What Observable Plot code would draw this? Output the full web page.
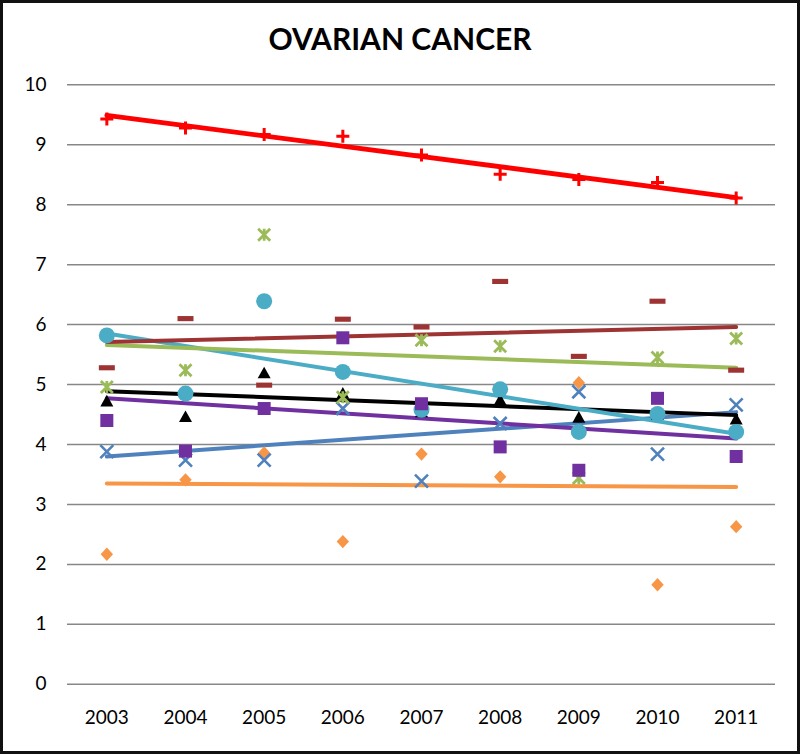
<!DOCTYPE html>
<html>
<head>
<meta charset="utf-8">
<script src="https://cdn.jsdelivr.net/npm/d3@7"></script>
<script src="https://cdn.jsdelivr.net/npm/@observablehq/plot@0.6"></script>
<style>
  body { margin: 0; background: #fff; }
  #wrap { position: relative; width: 800px; height: 754px; overflow: hidden; background: #fff; }
  #frame { position: absolute; left: 0; top: 0; width: 800px; height: 754px; box-sizing: border-box; border: 3px solid #111; pointer-events: none; }
  #title { position: absolute; left: 0; top: 23px; width: 800px; text-align: center; font: bold 30px Lato, "Open Sans", sans-serif; line-height: 30px; color: #000; }
  #chart { position: absolute; left: 0; top: 0; }
</style>
</head>
<body>
<div id="wrap">
  <div id="chart"></div>
  <div id="title">OVARIAN CANCER</div>
  <div id="frame"></div>
</div>
<script>
// ---- data ----
const years = [2003, 2004, 2005, 2006, 2007, 2008, 2009, 2010, 2011];
const yTicks = [0, 1, 2, 3, 4, 5, 6, 7, 8, 9, 10];

const redPlus       = [9.43, 9.28, 9.17, 9.14, 8.83, 8.51, 8.42, 8.37, 8.11];
const darkRedDash   = [5.28, 6.10, 4.99, 6.09, 5.96, 6.72, 5.47, 6.39, 5.24];
const greenStar     = [4.96, 5.24, 7.50, 4.79, 5.74, 5.64, 3.44, 5.45, 5.77];
const cyanCircle    = [5.82, 4.85, 6.39, 5.21, 4.58, 4.92, 4.21, 4.51, 4.21];
const blackTriangle = [4.72, 4.46, 5.19, 4.85, 4.54, 4.74, 4.45, 4.50, 4.42];
const purpleSquare  = [4.40, 3.89, 4.60, 5.78, 4.68, 3.96, 3.57, 4.77, 3.80];
const blueCross     = [3.88, 3.74, 3.74, 4.60, 3.39, 4.35, 4.88, 3.84, 4.66];
const orangeDiamond = [2.17, 3.41, 3.86, 2.38, 3.84, 3.46, 5.03, 1.66, 2.63];

// trend line values at 2003 and 2011
const redTrend     = [9.49, 8.12];
const darkRedTrend = [5.71, 5.96];
const greenTrend   = [5.66, 5.28];
const cyanTrend    = [5.85, 4.18];
const blackTrend   = [4.89, 4.49];
const purpleTrend  = [4.77, 4.10];
const blueTrend    = [3.80, 4.54];
const orangeTrend  = [3.35, 3.29];

// ---- marker shapes (r = half width) ----
const R = size => Math.sqrt(size / Math.PI);
const symPlus = {draw(c, s) { const r = R(s); c.moveTo(-r, 0); c.lineTo(r, 0); c.moveTo(0, -r); c.lineTo(0, r); }};
const symTimes = {draw(c, s) { const r = R(s); c.moveTo(-r, -r); c.lineTo(r, r); c.moveTo(-r, r); c.lineTo(r, -r); }};
const symStar = {draw(c, s) { const r = R(s); c.moveTo(-r, -r); c.lineTo(r, r); c.moveTo(-r, r); c.lineTo(r, -r); c.moveTo(0, -r); c.lineTo(0, r); }};
const symDash = {draw(c, s) { const r = R(s), h = r * 0.32; c.moveTo(-r, -h); c.lineTo(r, -h); c.lineTo(r, h); c.lineTo(-r, h); c.closePath(); }};
const symSquare = {draw(c, s) { const r = R(s); c.moveTo(-r, -r); c.lineTo(r, -r); c.lineTo(r, r); c.lineTo(-r, r); c.closePath(); }};
const symTri = {draw(c, s) { const r = R(s); c.moveTo(0, -r); c.lineTo(r, r * 0.8); c.lineTo(-r, r * 0.8); c.closePath(); }};
const symDiamond = {draw(c, s) { const r = R(s); c.moveTo(0, -r * 1.08); c.lineTo(r, 0); c.lineTo(0, r * 1.08); c.lineTo(-r, 0); c.closePath(); }};

const series = [
  {values: orangeDiamond, trend: orangeTrend, color: "#F79646", symbol: symDiamond, r: 6.2, filled: true, lw: 4},
  {values: blueCross, trend: blueTrend, color: "#4F81BD", symbol: symTimes, r: 6.5, filled: false, sw: 2.6, lw: 4},
  {values: blackTriangle, trend: blackTrend, color: "#000000", symbol: symTri, r: 6.5, filled: true, lw: 4},
  {values: cyanCircle, trend: cyanTrend, color: "#4BACC6", symbol: "circle", r: 8, filled: true, lw: 4},
  {values: greenStar, trend: greenTrend, color: "#9BBB59", symbol: symStar, r: 6, filled: false, sw: 2.8, lw: 4},
  {values: purpleSquare, trend: purpleTrend, color: "#7030A0", symbol: symSquare, r: 6.5, filled: true, lw: 4},
  {values: darkRedDash, trend: darkRedTrend, color: "#9E3334", symbol: symDash, r: 8, filled: true, lw: 4},
  {values: redPlus, trend: redTrend, color: "#FF0000", symbol: symPlus, r: 6.5, filled: false, sw: 3, lw: 4.8}
];

const lineMarks = series.map(s => Plot.line(
  [{year: years[0], v: s.trend[0]}, {year: years[years.length - 1], v: s.trend[1]}],
  {x: "year", y: "v", stroke: s.color, strokeWidth: s.lw}
));
const dotMarks = series.map(s => Plot.dot(
  years.map((yr, i) => ({year: yr, v: s.values[i]})),
  {x: "year", y: "v", symbol: s.symbol, r: s.r,
   fill: s.filled ? s.color : "none",
   stroke: s.filled ? "none" : s.color,
   strokeWidth: s.sw || 0}
));

const chart = Plot.plot({
  width: 800,
  height: 754,
  marginTop: 84.3,
  marginBottom: 70.2,
  marginLeft: 67,
  marginRight: 25,
  style: {fontFamily: "Lato, 'Open Sans', sans-serif", fontSize: "19px", color: "#000", background: "transparent"},
  x: {domain: [2002.5, 2011.5], ticks: years, tickFormat: d => String(d), tickSize: 0, tickPadding: 26, label: null},
  y: {domain: [0, 10], ticks: yTicks, tickSize: 0, tickPadding: 21, label: null},
  marks: [
    Plot.gridY(yTicks, {stroke: "#878787", strokeOpacity: 1, strokeWidth: 1.5}),
    ...lineMarks,
    ...dotMarks
  ]
});
document.getElementById("chart").appendChild(chart);
</script>
</body>
</html>
